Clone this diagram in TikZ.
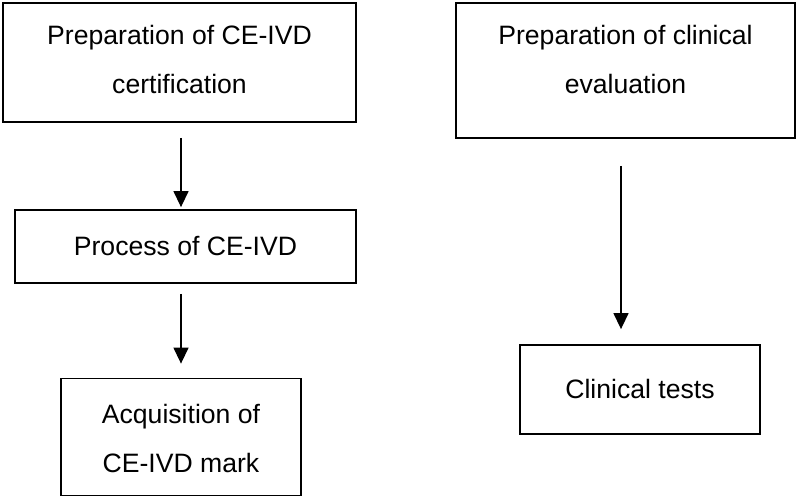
\documentclass[tikz,border=0pt]{standalone}
\usepackage{fontspec}
\setmainfont{Liberation Sans}
\usetikzlibrary{arrows.meta}
\tikzset{
  box/.style={draw=black, line width=1.8pt, rectangle, inner sep=0pt, fill=white},
  txt/.style={anchor=base, inner sep=0pt, font=\fontsize{26.6}{30}\selectfont},
  arr/.style={line width=1.4pt, -{Triangle[width=15pt,length=16pt]}}
}
\begin{document}
\begin{tikzpicture}[x=1pt,y=-1pt]
\useasboundingbox[fill=white] (0,0) rectangle (798,497);
% boxes
\node[box, minimum width=353pt, minimum height=119pt] (b1) at (179.5,62.5) {};
\node[box, minimum width=341pt, minimum height=73pt] (b2) at (185.5,246.5) {};
\node[box, minimum width=240pt, minimum height=117pt] (b3) at (181,437) {};
\node[box, minimum width=339pt, minimum height=135pt] (b4) at (625.5,70.5) {};
\node[box, minimum width=240pt, minimum height=89pt] (b5) at (640,389.5) {};
% texts
\node[txt] (t1a) at (179.5,45) {Preparation of CE-IVD};
\node[txt] (t1b) at (179.5,94) {certification};
\node[txt] (t2) at (185.5,255.5) {Process of CE-IVD};
\node[txt] (t3a) at (181,423) {Acquisition of};
\node[txt] (t3b) at (181,472) {CE-IVD mark};
\node[txt] (t4a) at (625.5,45) {Preparation of clinical};
\node[txt] (t4b) at (625.5,94) {evaluation};
\node[txt] (t5) at (640,398) {Clinical tests};
% arrow columns
\coordinate (axl) at (181,0);
\coordinate (axr) at (621,0);
\draw[arr] ([yshift=-15pt]b1.south -| axl) -- ([yshift=2pt]b2.north -| axl);
\draw[arr] ([yshift=-10pt]b2.south -| axl) -- ([yshift=14pt]b3.north -| axl);
\draw[arr] ([yshift=-27pt]b4.south -| axr) -- ([yshift=15pt]b5.north -| axr);
\end{tikzpicture}
\end{document}
